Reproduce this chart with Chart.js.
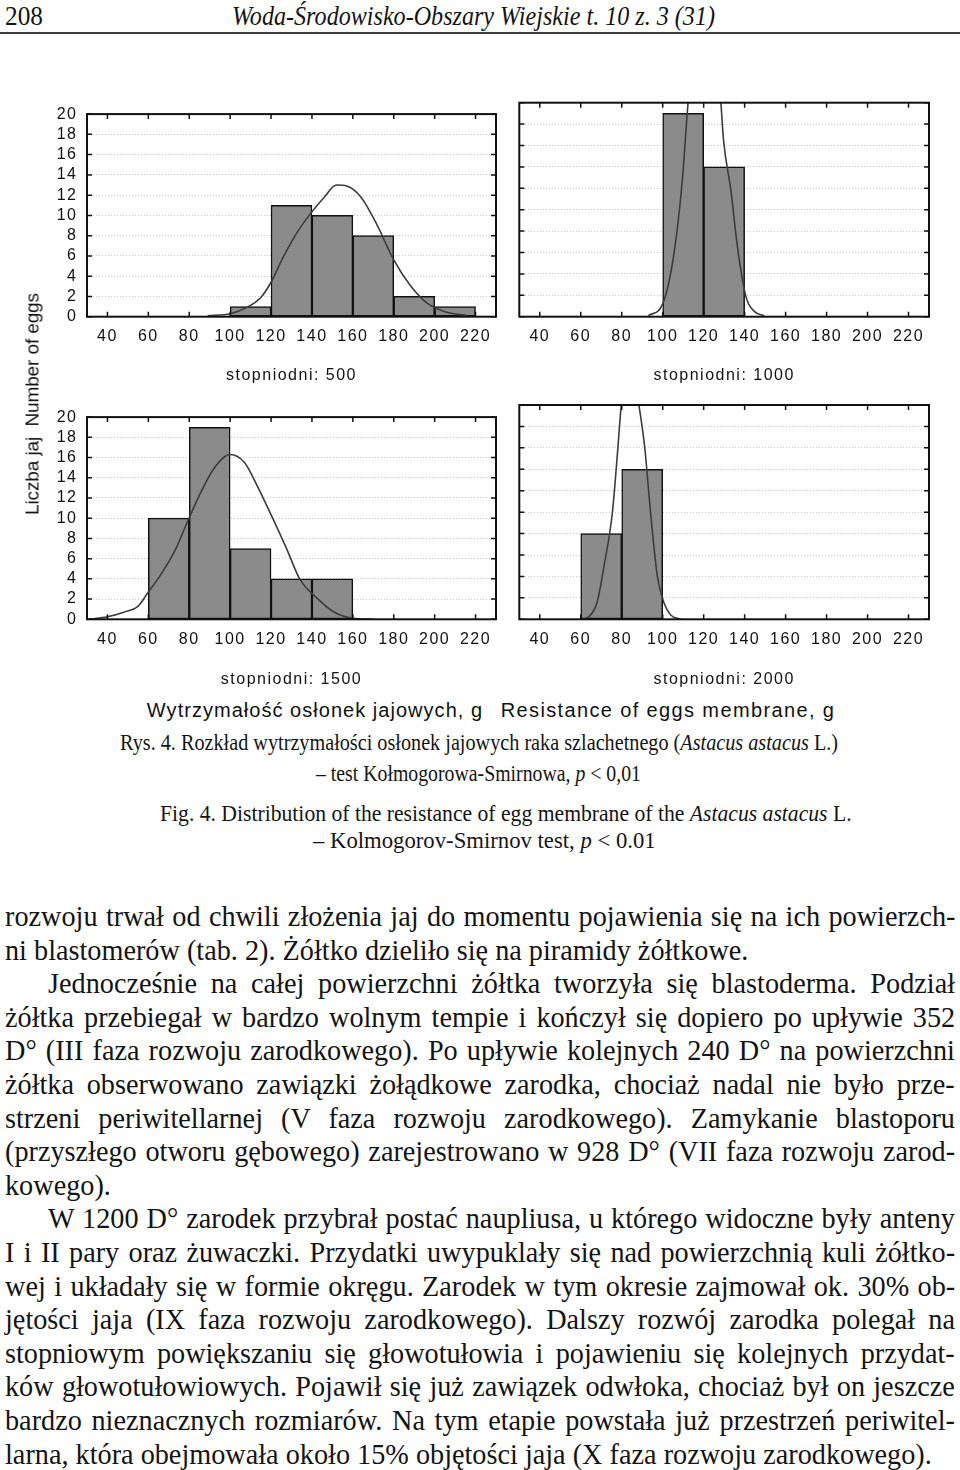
<!DOCTYPE html>
<html lang="pl">
<head>
<meta charset="utf-8">
<title>Rys. 4. Rozkład wytrzymałości osłonek jajowych</title>
<script src="https://cdn.jsdelivr.net/npm/chart.js@4.4.1/dist/chart.umd.min.js"></script>
<style>
  html, body { margin: 0; padding: 0; background: #fff; }
  body {
    width: 960px; height: 1470px; position: relative; overflow: hidden;
    font-family: "Liberation Serif", "Times New Roman", serif; color: #141414;
  }
  canvas { position: absolute; }
  .fit { position: absolute; white-space: nowrap; line-height: 1; display: inline-block; transform-origin: 0 0; }
  .sans { position: absolute; white-space: nowrap; line-height: 1; font-family: "Liberation Sans", Arial, sans-serif; color: #111; }
  .sans span { display: inline-block; }
  .bl { position: absolute; left: 5px; white-space: nowrap; line-height: 1; font-size: 29.5px; display: inline-block; transform-origin: 0 0; }
  .rule { position: absolute; left: 0; top: 32px; width: 960px; height: 2px; background: #3a3a3a; }
</style>
</head>
<body>

<div class="fit" style="font-size:28px; top:2px;" data-x="5" data-w="38">208</div>
<div class="fit" style="font-size:28px; top:2px; font-style:italic;" data-x="232" data-w="483">Woda-Środowisko-Obszary Wiejskie t. 10 z. 3 (31)</div>
<div class="rule"></div>

<canvas id="p500" width="460" height="295" style="left:40px; top:95px; width:460px; height:295px;"></canvas>
<canvas id="p1000" width="460" height="295" style="left:500px; top:95px; width:460px; height:295px;"></canvas>
<canvas id="p1500" width="460" height="296" style="left:40px; top:398px; width:460px; height:296px;"></canvas>
<canvas id="p2000" width="460" height="296" style="left:500px; top:398px; width:460px; height:296px;"></canvas>

<div class="sans" style="left:32px; top:404px; font-size:19px;">
  <span class="ls" data-w="222" style="transform: translate(-50%,-50%) rotate(-90deg);">Liczba jaj&nbsp; Number of eggs</span>
</div>
<div class="sans" style="left:315px; top:710px; font-size:20px;">
  <span class="ls" data-w="336" style="transform: translate(-50%,-50%);">Wytrzymałość osłonek jajowych, g</span>
</div>
<div class="sans" style="left:668px; top:710px; font-size:20px;">
  <span class="ls" data-w="335" style="transform: translate(-50%,-50%);">Resistance of eggs membrane, g</span>
</div>

<div class="fit" style="font-size:23.5px; top:731px;" data-cx="479" data-w="718">Rys. 4. Rozkład wytrzymałości osłonek jajowych raka szlachetnego (<i>Astacus astacus</i> L.)</div>
<div class="fit" style="font-size:23.5px; top:762px;" data-cx="478" data-w="325">– test Kołmogorowa-Smirnowa, <i>p</i> &lt; 0,01</div>
<div class="fit" style="font-size:23.5px; top:802px;" data-cx="506" data-w="692">Fig. 4. Distribution of the resistance of egg membrane of the <i>Astacus astacus</i> L.</div>
<div class="fit" style="font-size:23.5px; top:829px;" data-cx="484" data-w="343">– Kolmogorov-Smirnov test, <i>p</i> &lt; 0.01</div>

<div id="bodytext">
<div class="bl" data-j="1">rozwoju trwał od chwili złożenia jaj do momentu pojawienia się na ich powierzch-</div>
<div class="bl" data-w="745">ni blastomerów (tab. 2). Żółtko dzieliło się na piramidy żółtkowe.</div>
<div class="bl" data-j="1" data-indent="1">Jednocześnie na całej powierzchni żółtka tworzyła się blastoderma. Podział</div>
<div class="bl" data-j="1">żółtka przebiegał w bardzo wolnym tempie i kończył się dopiero po upływie 352</div>
<div class="bl" data-j="1">D° (III faza rozwoju zarodkowego). Po upływie kolejnych 240 D° na powierzchni</div>
<div class="bl" data-j="1">żółtka obserwowano zawiązki żołądkowe zarodka, chociaż nadal nie było prze-</div>
<div class="bl" data-j="1">strzeni periwitellarnej (V faza rozwoju zarodkowego). Zamykanie blastoporu</div>
<div class="bl" data-j="1">(przyszłego otworu gębowego) zarejestrowano w 928 D° (VII faza rozwoju zarod-</div>
<div class="bl">kowego).</div>
<div class="bl" data-j="1" data-indent="1">W 1200 D° zarodek przybrał postać naupliusa, u którego widoczne były anteny</div>
<div class="bl" data-j="1">I i II pary oraz żuwaczki. Przydatki uwypuklały się nad powierzchnią kuli żółtko-</div>
<div class="bl" data-j="1">wej i układały się w formie okręgu. Zarodek w tym okresie zajmował ok. 30% ob-</div>
<div class="bl" data-j="1">jętości jaja (IX faza rozwoju zarodkowego). Dalszy rozwój zarodka polegał na</div>
<div class="bl" data-j="1">stopniowym powiększaniu się głowotułowia i pojawieniu się kolejnych przydat-</div>
<div class="bl" data-j="1">ków głowotułowiowych. Pojawił się już zawiązek odwłoka, chociaż był on jeszcze</div>
<div class="bl" data-j="1">bardzo nieznacznych rozmiarów. Na tym etapie powstała już przestrzeń periwitel-</div>
<div class="bl" data-w="925">larna, która obejmowała około 15% objętości jaja (X faza rozwoju zarodkowego).</div>
</div>

<script>
// axis ticks shared by all four panels
const xTickValues = [40, 60, 80, 100, 120, 140, 160, 180, 200, 220];
const yTickValues = [0, 2, 4, 6, 8, 10, 12, 14, 16, 18, 20];
const binWidth = 20;

// stopniodni: 500
const bins500 = [100, 120, 140, 160, 180, 200];
const counts500 = [1, 11, 10, 8, 2, 1];
const curve500X = [89, 100, 108, 115, 120, 126, 133, 139, 146, 152, 157, 164, 172, 180, 188, 196, 205, 216];
const curve500Y = [0.1, 0.3, 0.9, 1.9, 3.4, 5.9, 8.4, 10.1, 11.8, 13.0, 12.9, 11.8, 9.0, 5.6, 3.1, 1.4, 0.5, 0.1];

// stopniodni: 1000
const bins1000 = [100, 120];
const counts1000 = [19, 14];
const curve1000X = [93, 100, 105.5, 109.6, 112.4, 121, 128.4, 129.7, 133.3, 136.5, 140.6, 144.7, 149.6];
const curve1000Y = [0.1, 1.2, 5.9, 12.8, 20, 34, 20, 16.5, 11.8, 6.5, 1.9, 0.5, 0.1];

// stopniodni: 1500
const bins1500 = [60, 80, 100, 120, 140];
const counts1500 = [10, 19, 7, 4, 4];
const curve1500X = [31, 40, 48, 55, 60, 66, 73, 79, 86, 92, 100, 107, 113, 121, 128, 134, 143, 151, 160, 170];
const curve1500Y = [0, 0.25, 0.7, 1.3, 2.7, 4.4, 6.8, 9.6, 12.7, 14.9, 16.3, 15.5, 13.3, 9.9, 6.8, 4.0, 2.0, 0.7, 0.1, 0];

// stopniodni: 2000
const bins2000 = [60, 80];
const counts2000 = [8, 14];
const curve2000X = [60.7, 64, 68, 71.3, 75.4, 77.8, 79.8, 84.5, 88.4, 91.2, 94.1, 97.4, 100.7, 103.9, 108.8];
const curve2000Y = [0, 0.25, 1.6, 4.9, 9.9, 15.2, 20, 25, 20, 16.1, 9.9, 4.0, 1.5, 0.4, 0];

const tickFont = { family: "'Liberation Sans', Arial, sans-serif", size: 16 };

// Statistica style box: frame plus inward ticks on all four sides
const framePlugin = {
	id: 'frame',
	beforeDraw(chart) {
		chart.ctx.letterSpacing = '1.5px';
	},
	afterDatasetsDraw(chart) {
		const { ctx, chartArea: a, scales: { x, y } } = chart;
		ctx.save();
		ctx.strokeStyle = '#111';
		ctx.lineWidth = 1.5;
		ctx.beginPath();
		xTickValues.forEach(v => {
			const px = x.getPixelForValue(v);
			ctx.moveTo(px, a.bottom); ctx.lineTo(px, a.bottom - 5);
			ctx.moveTo(px, a.top); ctx.lineTo(px, a.top + 5);
		});
		yTickValues.forEach(v => {
			const py = y.getPixelForValue(v);
			ctx.moveTo(a.left, py); ctx.lineTo(a.left + 5, py);
			ctx.moveTo(a.right, py); ctx.lineTo(a.right - 5, py);
		});
		ctx.stroke();
		ctx.lineWidth = 2;
		ctx.strokeRect(a.left, a.top, a.right - a.left, a.bottom - a.top);
		ctx.restore();
	}
};

function makePanel(id, bins, counts, curveX, curveY, opt) {
	const bars = bins.map((b, i) => ({ x: b + binWidth / 2, y: counts[i] }));
	const curve = curveX.map((x, i) => ({ x: x, y: curveY[i] }));

	new Chart(document.getElementById(id), {
		type: 'bar',
		data: {
			datasets: [
				{
					type: 'line',
					data: curve,
					borderColor: '#3c3c3c',
					borderWidth: 1.6,
					pointRadius: 0,
					cubicInterpolationMode: 'monotone',
					order: 0
				},
				{
					type: 'bar',
					data: bars,
					backgroundColor: '#8b8b8b',
					borderColor: '#111',
					borderWidth: 1.5,
					borderSkipped: false,
					barPercentage: 1,
					categoryPercentage: 1,
					order: 1
				}
			]
		},
		options: {
			responsive: false,
			animation: false,
			events: [],
			layout: { padding: { top: opt.padTop, right: opt.padRight, left: 0, bottom: 0 } },
			plugins: { legend: { display: false }, tooltip: { enabled: false } },
			scales: {
				x: {
					type: 'linear',
					min: 30,
					max: 230,
					offset: false,
					afterBuildTicks: axis => { axis.ticks = xTickValues.map(v => ({ value: v })); },
					afterFit: scale => { scale.height = opt.xHeight; },
					grid: { display: false, drawTicks: false },
					border: { display: false },
					ticks: { font: tickFont, color: '#111', padding: 10.5, maxRotation: 0, autoSkip: false },
					title: {
						display: true,
						text: opt.title,
						font: tickFont,
						color: '#111',
						padding: { top: 0, bottom: 4.4 }
					}
				},
				y: {
					min: 0,
					max: 20,
					afterBuildTicks: axis => { axis.ticks = yTickValues.map(v => ({ value: v })); },
					afterFit: scale => { scale.width = opt.yWidth; },
					grid: { color: '#c4c4c4', lineWidth: 1, drawTicks: false },
					border: { display: false, dash: [1, 2] },
					ticks: { display: opt.showY, font: tickFont, color: '#111', padding: 9.5, autoSkip: false }
				}
			}
		},
		plugins: [framePlugin]
	});
}

makePanel('p500', bins500, counts500, curve500X, curve500Y,
	{ title: 'stopniodni: 500', showY: true, yWidth: 47, padTop: 7.7, padRight: 4, xHeight: 73.3 });
makePanel('p1000', bins1000, counts1000, curve1000X, curve1000Y,
	{ title: 'stopniodni: 1000', showY: false, yWidth: 19.3, padTop: 7.7, padRight: 31, xHeight: 73.3 });
makePanel('p1500', bins1500, counts1500, curve1500X, curve1500Y,
	{ title: 'stopniodni: 1500', showY: true, yWidth: 47, padTop: 7, padRight: 4, xHeight: 74.7 });
makePanel('p2000', bins2000, counts2000, curve2000X, curve2000Y,
	{ title: 'stopniodni: 2000', showY: false, yWidth: 19.3, padTop: 7, padRight: 31, xHeight: 74.7 });

// squeeze serif lines to the widths of the printed page
document.querySelectorAll('.fit').forEach(el => {
	const w = el.offsetWidth;
	const target = +el.dataset.w;
	const left = el.dataset.cx !== undefined ? +el.dataset.cx - target / 2 : +el.dataset.x;
	el.style.left = left + 'px';
	el.style.transform = 'scaleX(' + (target / w) + ')';
});

// sans labels spread with letter spacing (Statistica look)
document.querySelectorAll('.ls').forEach(el => {
	const w = el.offsetWidth;
	const n = el.textContent.length;
	el.style.letterSpacing = ((+el.dataset.w - w) / n) + 'px';
});

// body text: one common horizontal squeeze taken from the paragraph-end lines, then justify
const BODY_W = 950, INDENT = 43, LINE_TOP = 902, LINE_STEP = 33.6;
const lines = Array.from(document.querySelectorAll('.bl'));
const widths = lines.map(el => el.offsetWidth);
const ks = [];
lines.forEach((el, i) => { if (el.dataset.w) ks.push(+el.dataset.w / widths[i]); });
const k = ks.reduce((s, v) => s + v, 0) / ks.length;
lines.forEach((el, i) => {
	el.style.top = (LINE_TOP + i * LINE_STEP) + 'px';
	el.style.transform = 'scaleX(' + k + ')';
	if (el.dataset.indent) el.style.paddingLeft = (INDENT / k) + 'px';
	if (el.dataset.j) {
		const avail = (BODY_W - (el.dataset.indent ? INDENT : 0)) / k;
		const spaces = (el.textContent.match(/ /g) || []).length;
		el.style.wordSpacing = ((avail - widths[i]) / spaces) + 'px';
	}
});
</script>
</body>
</html>
